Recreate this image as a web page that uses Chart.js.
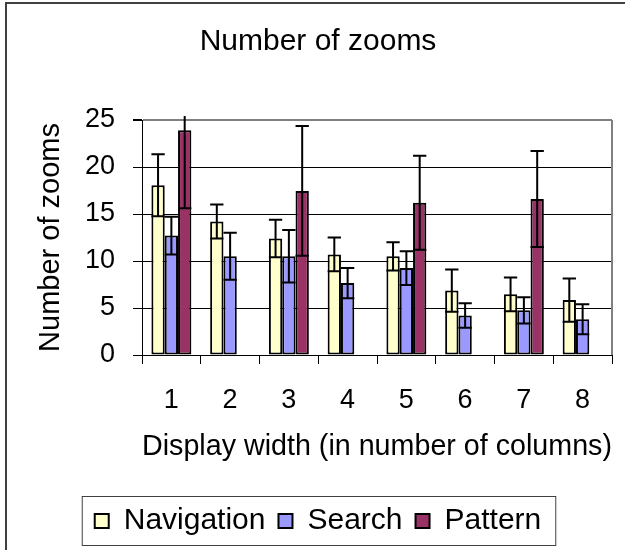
<!DOCTYPE html>
<html>
<head>
<meta charset="utf-8">
<script src="https://cdn.jsdelivr.net/npm/chart.js@4.4.0/dist/chart.umd.min.js"></script>
<style>
  body { margin: 0; background: #fff; }
  #wrap { width: 625px; height: 550px; }
</style>
</head>
<body>
<div id="wrap"><canvas id="zooms" width="625" height="550"></canvas></div>
<script>
// display width (columns)
const columns = ["1", "2", "3", "4", "5", "6", "7", "8"];

// mean number of zooms
const navigation = [18.05, 14.2, 12.4, 10.7, 10.5, 6.85, 6.45, 5.85];
const search = [12.7, 10.5, 10.5, 7.65, 9.25, 4.2, 4.75, 3.8];
const pattern = [23.9, null, 17.45, null, 16.2, null, 16.6, null];

// error bar half-lengths
const navigationErr = [3.3, 1.8, 2.0, 1.8, 1.5, 2.25, 1.8, 2.3];
const searchErr = [2.0, 2.5, 2.8, 1.6, 1.8, 1.3, 1.4, 1.6];
const patternErr = [8.3, null, 6.9, null, 5.0, null, 5.1, null];

const yTicks = [0, 5, 10, 15, 20, 25];

Chart.defaults.font.family = '"Liberation Sans", Arial, sans-serif';
Chart.defaults.color = "#000";

const PLOT_LEFT = 142;

// outer frame + grey plot border (top/right)
const framePlugin = {
  id: "frame",
  beforeDraw(chart) {
    const ctx = chart.ctx;
    ctx.save();
    ctx.strokeStyle = "#404040";
    ctx.lineWidth = 2;
    ctx.strokeRect(6, 3, 700, 700);
    ctx.restore();
  },
  beforeDatasetsDraw(chart) {
    const { ctx, chartArea } = chart;
    ctx.save();
    ctx.strokeStyle = "#808080";
    ctx.lineWidth = 2;
    ctx.beginPath();
    ctx.moveTo(chartArea.right, chartArea.top);
    ctx.lineTo(chartArea.right, chartArea.bottom);
    ctx.stroke();
    ctx.restore();
  },
  afterDraw(chart) {
    const legend = chart.legend;
    if (!legend || !legend.legendHitBoxes.length) return;
    const boxes = legend.legendHitBoxes;
    const first = boxes[0];
    const last = boxes[boxes.length - 1];
    const cy = first.top + first.height / 2;
    const ctx = chart.ctx;
    ctx.save();
    ctx.strokeStyle = "#404040";
    ctx.lineWidth = 1;
    ctx.strokeRect(first.left - 12.5, cy - 24.5, last.left + last.width - first.left + 27, 49);
    ctx.restore();
  }
};

const errorBarPlugin = {
  id: "errorBars",
  afterDatasetsDraw(chart) {
    const { ctx, chartArea } = chart;
    const yScale = chart.scales.y;
    ctx.save();
    ctx.beginPath();
    ctx.rect(chartArea.left, chartArea.top - 4, chartArea.right - chartArea.left, chartArea.bottom - chartArea.top + 4);
    ctx.clip();
    ctx.strokeStyle = "#000";
    ctx.lineWidth = 2;
    chart.data.datasets.forEach((ds, i) => {
      const meta = chart.getDatasetMeta(i);
      meta.data.forEach((bar, j) => {
        const v = ds.data[j];
        const e = ds.errors[j];
        if (v == null || e == null) return;
        const x = bar.x;
        const half = bar.width / 2;
        const yHi = yScale.getPixelForValue(v + e);
        const yLo = yScale.getPixelForValue(v - e);
        ctx.beginPath();
        ctx.moveTo(x, yHi);
        ctx.lineTo(x, yLo);
        ctx.moveTo(x - half, yHi);
        ctx.lineTo(x + half, yHi);
        ctx.moveTo(x - half, yLo);
        ctx.lineTo(x + half, yLo);
        ctx.stroke();
      });
    });
    ctx.restore();
  }
};

new Chart(document.getElementById("zooms"), {
  type: "bar",
  data: {
    labels: columns,
    datasets: [
      { label: "Navigation", data: navigation, errors: navigationErr, backgroundColor: "#FFFFCC" },
      { label: "Search", data: search, errors: searchErr, backgroundColor: "#9999FF" },
      { label: "Pattern", data: pattern, errors: patternErr, backgroundColor: "#993366" }
    ].map((d) => Object.assign(d, {
      borderColor: "#000",
      borderWidth: 2,
      borderSkipped: false,
      categoryPercentage: 0.68,
      barPercentage: 1
    }))
  },
  options: {
    responsive: false,
    animation: false,
    layout: { padding: { left: 24, right: 13, top: 0, bottom: 4 } },
    plugins: {
      title: {
        display: true,
        text: "Number of zooms",
        font: { size: 30, weight: "normal" },
        padding: { top: 24, bottom: 60 }
      },
      legend: {
        position: "bottom",
        labels: {
          font: { size: 30 },
          boxWidth: 14,
          boxHeight: 14,
          padding: 13,
          color: "#000"
        }
      },
      tooltip: { enabled: false }
    },
    scales: {
      x: {
        afterFit(scale) { scale.height = 138; },
        grid: {
          offset: true,
          drawOnChartArea: false,
          tickLength: 9,
          color: "#000",
          lineWidth: 1
        },
        border: { color: "#000", width: 1 },
        ticks: { font: { size: 27 }, padding: 20, maxRotation: 0 },
        title: {
          display: true,
          text: "Display width (in number of columns)",
          font: { size: 29 },
          padding: { top: 0, bottom: 29 }
        }
      },
      y: {
        min: 0,
        max: 25,
        afterFit(scale) { scale.width = PLOT_LEFT - 24; },
        afterBuildTicks(scale) { scale.ticks = yTicks.map((v) => ({ value: v })); },
        grid: {
          tickLength: 9,
          color: (c) => (c.tick && c.tick.value === 25 ? "#808080" : "#000"),
          tickColor: "#000",
          lineWidth: (c) => (c.tick && c.tick.value === 25 ? 2 : 1)
        },
        border: { color: "#000", width: 1 },
        ticks: { font: { size: 27 }, padding: 18 },
        title: {
          display: true,
          text: "Number of zooms",
          font: { size: 29 },
          padding: { top: 10, bottom: 0 }
        }
      }
    }
  },
  plugins: [framePlugin, errorBarPlugin]
});
</script>
</body>
</html>
